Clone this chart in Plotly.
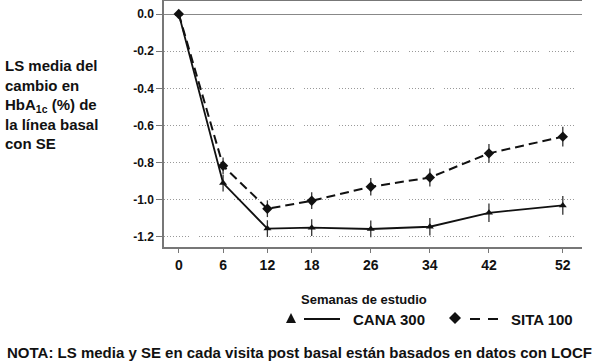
import plotly.graph_objects as go

weeks = [0, 6, 12, 18, 26, 34, 42, 52]
cana_300 = [0.0, -0.91, -1.155, -1.15, -1.157, -1.145, -1.07, -1.03]
cana_se = [0.0, 0.045, 0.045, 0.045, 0.045, 0.047, 0.05, 0.05]
sita_100 = [0.0, -0.817, -1.048, -1.005, -0.93, -0.88, -0.75, -0.66]
sita_se = [0.0, 0.045, 0.045, 0.045, 0.047, 0.048, 0.05, 0.053]
ytick_vals = [0.0, -0.2, -0.4, -0.6, -0.8, -1.0, -1.2]
ytick_labels = ["0.0", "-0.2", "-0.4", "-0.6", "-0.8", "-1.0", "-1.2"]
xtick_labels = ["0", "6", "12", "18", "26", "34", "42", "52"]

FONT = "Liberation Sans, Arial, sans-serif"
W, H = 600, 363
L, R, T, B = 164, 18, 1, 116
PW, PH = W - L - R, H - T - B


def px(x):
    return (x - L) / PW


def py(y):
    return (H - B - y) / PH


fig = go.Figure()
fig.add_trace(go.Scatter(
    x=weeks, y=sita_100, mode="lines+markers", name="SITA 100",
    line=dict(color="#111111", width=2, dash="9px,5px"),
    marker=dict(symbol="diamond", size=8, color="#111111"),
    error_y=dict(type="data", array=sita_se, color="#333333", thickness=1.3, width=0),
    showlegend=False,
))
fig.add_trace(go.Scatter(
    x=weeks, y=cana_300, mode="lines+markers", name="CANA 300",
    line=dict(color="#111111", width=1.8),
    marker=dict(symbol="triangle-up", size=7, color="#111111"),
    error_y=dict(type="data", array=cana_se, color="#333333", thickness=1.3, width=0),
    showlegend=False,
))

shapes = []
# legend: triangle + solid line
tx, ty = 291, 318
shapes.append(dict(type="path", xref="paper", yref="paper",
                   path=f"M {px(tx-5)} {py(ty+5)} L {px(tx+5)} {py(ty+5)} L {px(tx)} {py(ty-5)} Z",
                   fillcolor="#111111", line=dict(width=0)))
shapes.append(dict(type="line", xref="paper", yref="paper",
                   x0=px(304), x1=px(340), y0=py(319), y1=py(319),
                   line=dict(color="#111111", width=1.8)))
# legend: diamond + dashed line
dx, dy = 455, 318
shapes.append(dict(type="path", xref="paper", yref="paper",
                   path=f"M {px(dx-6)} {py(dy)} L {px(dx)} {py(dy-6)} L {px(dx+6)} {py(dy)} L {px(dx)} {py(dy+6)} Z",
                   fillcolor="#111111", line=dict(width=0)))
shapes.append(dict(type="line", xref="paper", yref="paper",
                   x0=px(470), x1=px(498), y0=py(319), y1=py(319),
                   line=dict(color="#111111", width=1.8, dash="10px,8px")))

annotations = [
    dict(text="<b>LS media del<br>cambio en<br>HbA<sub>1c</sub> (%) de<br>la línea basal<br>con SE</b>",
         xref="paper", yref="paper", x=px(3), y=py(104), xanchor="left", yanchor="middle",
         align="left", showarrow=False, font=dict(family=FONT, size=15, color="#111111")),
    dict(text="<b>Semanas de estudio</b>", xref="paper", yref="paper", x=px(364), y=py(299),
         xanchor="center", yanchor="middle", showarrow=False,
         font=dict(family=FONT, size=13, color="#111111")),
    dict(text="<b>CANA 300</b>", xref="paper", yref="paper", x=px(351), y=py(319),
         xanchor="left", yanchor="middle", showarrow=False,
         font=dict(family=FONT, size=15, color="#111111")),
    dict(text="<b>SITA 100</b>", xref="paper", yref="paper", x=px(509), y=py(319),
         xanchor="left", yanchor="middle", showarrow=False,
         font=dict(family=FONT, size=15, color="#111111")),
    dict(text="<b>NOTA: LS media y SE en cada visita post basal están basados en datos con LOCF</b>",
         xref="paper", yref="paper", x=px(299), y=py(352),
         xanchor="center", yanchor="middle", showarrow=False,
         font=dict(family=FONT, size=15, color="#111111")),
]

grid_dash = ",".join(["1px,2px"] * 8) + ",1px,10px"

fig.update_layout(
    width=W, height=H,
    margin=dict(l=L, r=R, t=T, b=B, pad=0, autoexpand=False),
    paper_bgcolor="white", plot_bgcolor="white",
    font=dict(family=FONT, color="#111111"),
    shapes=shapes, annotations=annotations,
    xaxis=dict(
        range=[-2, 54.6], tickmode="array", tickvals=weeks, ticktext=xtick_labels,
        showgrid=False, zeroline=False, showline=True, linecolor="#777777", linewidth=1.5,
        mirror=True, ticks="outside", ticklen=4, tickcolor="#777777", automargin=False,
        tickfont=dict(family=FONT, size=14, color="#111111", weight="bold"),
    ),
    yaxis=dict(
        range=[-1.254, 0.07], tickmode="array", tickvals=ytick_vals, ticktext=ytick_labels,
        showgrid=True, gridcolor="#999999", griddash=grid_dash, gridwidth=1,
        zeroline=True, zerolinecolor="#888888", zerolinewidth=1.2,
        showline=True, linecolor="#777777", linewidth=1.5, automargin=False,
        ticks="outside", ticklen=6, tickcolor="#777777",
        tickfont=dict(family=FONT, size=12, color="#111111", weight="bold"),
    ),
)

fig.write_html("out.html",
               config={"displayModeBar": False},
               post_script="document.body.style.margin='0';document.body.style.overflow='hidden';")
